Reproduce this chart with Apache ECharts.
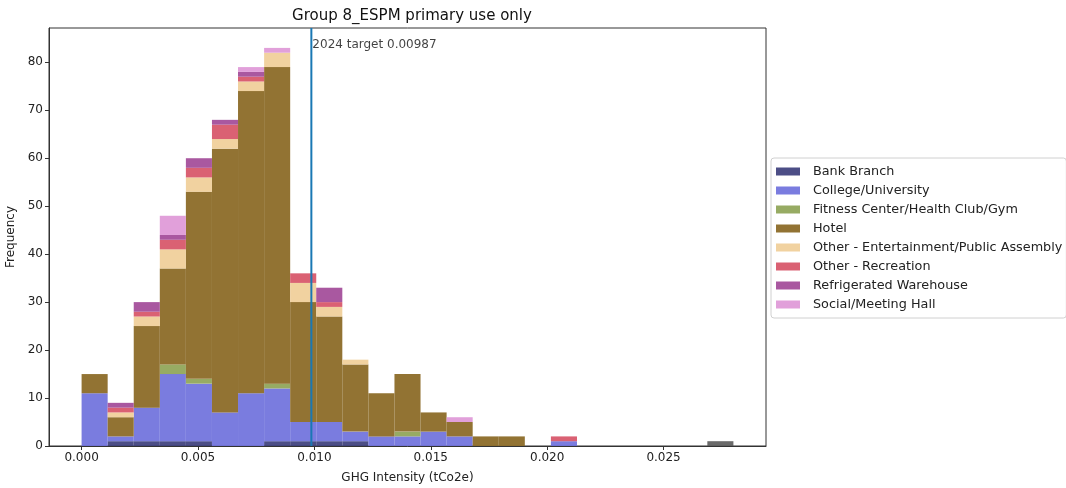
<!DOCTYPE html>
<html>
<head>
<meta charset="utf-8">
<script src="https://cdn.jsdelivr.net/npm/echarts@6/dist/echarts.min.js"></script>
<style>
  html, body { margin: 0; padding: 0; background: #fff; }
  #chart { width: 1066px; height: 488px; }
</style>
</head>
<body>
<div id="chart"></div>
<script>
// histogram bins: 25 bins from 0 to 0.028
var binStart = 0
var binWidth = 0.00112
var target = 0.00987

var bankBranch   = [0,1,1,1,1,0,0,1,1,1,1,0,0,0,0,0,0,0,0,0,0,0,0,0,0]
var college      = [11,1,7,14,12,7,11,11,4,4,2,2,2,3,2,0,0,0,1,0,0,0,0,0,0]
var fitness      = [0,0,0,2,1,0,0,1,0,0,0,0,1,0,0,0,0,0,0,0,0,0,0,0,0]
var hotel        = [4,4,17,20,39,55,63,66,25,22,14,9,12,4,3,2,2,0,0,0,0,0,0,0,0]
var entertain    = [0,1,2,4,3,2,2,3,4,2,1,0,0,0,0,0,0,0,0,0,0,0,0,0,0]
var recreation   = [0,1,1,2,2,3,1,0,2,1,0,0,0,0,0,0,0,0,1,0,0,0,0,0,0]
var refrigerated = [0,1,2,1,2,1,1,0,0,3,0,0,0,0,0,0,0,0,0,0,0,0,0,0,0]
var socialHall   = [0,0,0,4,0,0,1,1,0,0,0,0,0,0,1,0,0,0,0,0,0,0,0,0,0]
var unlisted     = [0,0,0,0,0,0,0,0,0,0,0,0,0,0,0,0,0,0,0,0,0,0,0,0,1]

var xTicks = [0, 0.005, 0.01, 0.015, 0.02, 0.025]
var yTicks = [0, 10, 20, 30, 40, 50, 60, 70, 80]

var groups = [
  { name: 'Bank Branch', data: bankBranch, color: 'rgba(57,59,121,0.9)' },
  { name: 'College/University', data: college, color: 'rgba(107,110,220,0.9)' },
  { name: 'Fitness Center/Health Club/Gym', data: fitness, color: 'rgba(140,162,82,0.9)' },
  { name: 'Hotel', data: hotel, color: 'rgba(140,107,40,0.95)' },
  { name: 'Other - Entertainment/Public Assembly', data: entertain, color: 'rgba(240,205,150,0.9)' },
  { name: 'Other - Recreation', data: recreation, color: 'rgba(214,80,100,0.9)' },
  { name: 'Refrigerated Warehouse', data: refrigerated, color: 'rgba(160,70,150,0.9)' },
  { name: 'Social/Meeting Hall', data: socialHall, color: 'rgba(222,150,214,0.9)' },
  { name: '', data: unlisted, color: 'rgba(90,90,90,0.9)' }
]

var font = 'DejaVu Sans'
var chart = echarts.init(document.getElementById('chart'))

// stack the counts by hand
var base = bankBranch.map(function () { return 0 })
var series = groups.map(function (g) {
  var items = []
  g.data.forEach(function (v, i) {
    if (v > 0) {
      var x0 = binStart + i * binWidth
      items.push([x0, x0 + binWidth, base[i], base[i] + v])
    }
    base[i] += v
  })
  return {
    name: g.name,
    type: 'custom',
    itemStyle: { color: g.color },
    encode: { x: [0, 1], y: [2, 3] },
    renderItem: function (params, api) {
      var p0 = api.coord([api.value(0), api.value(3)])
      var p1 = api.coord([api.value(1), api.value(2)])
      return {
        type: 'rect',
        shape: { x: p0[0], y: p0[1], width: p1[0] - p0[0], height: p1[1] - p0[1] },
        style: { fill: g.color }
      }
    },
    data: items
  }
})

// target line + its label
series.push({
  type: 'line',
  silent: true,
  symbol: 'none',
  lineStyle: { color: '#1a78b4', width: 2 },
  data: [[target, 0], [target, 87.15]],
  z: 5
})
series.push({
  type: 'scatter',
  symbolSize: 0,
  silent: true,
  data: [[target, 83.6]],
  label: {
    show: true, position: 'right', distance: 1,
    formatter: '2024 target ' + target,
    color: '#111', fontFamily: font, fontSize: 12
  }
})

chart.setOption({
  animation: false,
  title: {
    text: 'Group 8_ESPM primary use only',
    left: 407, top: 4, textAlign: 'center',
    textStyle: { fontFamily: font, fontSize: 15, fontWeight: 'normal', color: '#111' }
  },
  legend: {
    orient: 'vertical',
    left: 771, top: 158,
    data: groups.slice(0, 8).map(function (g) { return g.name }),
    icon: 'rect',
    itemWidth: 24, itemHeight: 8, itemGap: 6,
    padding: [7, 4, 7, 5],
    borderColor: '#d0d0d0', borderWidth: 1, borderRadius: 3,
    textStyle: { fontFamily: font, fontSize: 12.8, color: '#222', padding: [0, 0, 0, 8] }
  },
  grid: { left: 49, right: 300, top: 28, bottom: 42, show: true, borderColor: '#333', borderWidth: 1, outerBoundsMode: 'none' },
  xAxis: {
    type: 'value', min: -0.0014, max: 0.0294,
    name: 'GHG Intensity (tCo2e)', nameLocation: 'middle', nameGap: 26,
    nameTextStyle: { fontFamily: font, fontSize: 12, color: '#222' },
    axisLine: { show: true, onZero: false, lineStyle: { color: '#333' } },
    axisTick: { show: true, length: 4, customValues: xTicks, lineStyle: { color: '#333' } },
    axisLabel: { customValues: xTicks, fontFamily: font, fontSize: 12, color: '#222', margin: 6,
      formatter: function (v) { return v.toFixed(3) } },
    splitLine: { show: false }
  },
  yAxis: {
    type: 'value', min: 0, max: 87.15,
    name: 'Frequency', nameLocation: 'middle', nameGap: 31,
    nameTextStyle: { fontFamily: font, fontSize: 12, color: '#222' },
    axisLine: { show: true, onZero: false, lineStyle: { color: '#333' } },
    axisTick: { show: true, length: 4, customValues: yTicks, lineStyle: { color: '#333' } },
    axisLabel: { customValues: yTicks, fontFamily: font, fontSize: 12, color: '#222', margin: 6 },
    splitLine: { show: false }
  },
  series: series
})
</script>
</body>
</html>
